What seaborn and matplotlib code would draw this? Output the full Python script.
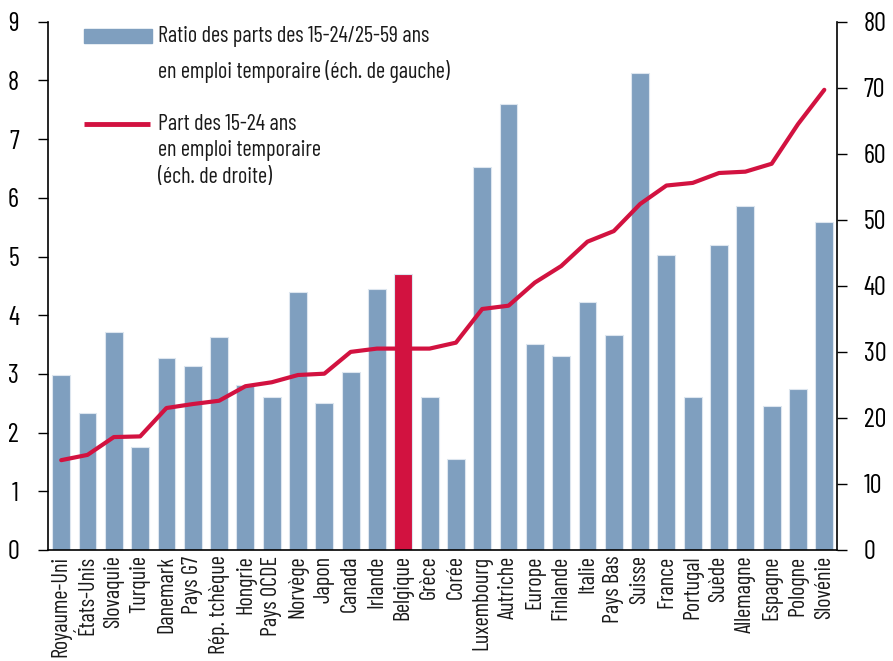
import numpy as np
import pandas as pd
import matplotlib
matplotlib.use("Agg")
import matplotlib.pyplot as plt
import seaborn as sns

# ------------------------
# Data
# ------------------------
pays = ["Royaume-Uni", "États-Unis", "Slovaquie", "Turquie", "Danemark", "Pays G7",
        "Rép. tchèque", "Hongrie", "Pays OCDE", "Norvège", "Japon", "Canada", "Irlande",
        "Belgique", "Grèce", "Corée", "Luxembourg", "Autriche", "Europe", "Finlande",
        "Italie", "Pays Bas", "Suisse", "France", "Portugal", "Suède", "Allemagne",
        "Espagne", "Pologne", "Slovénie"]

ratio = [2.98, 2.33, 3.71, 1.75, 3.27, 3.13, 3.63, 2.81, 2.61, 4.40, 2.51, 3.03, 4.45,
         4.70, 2.61, 1.55, 6.52, 7.60, 3.51, 3.30, 4.22, 3.66, 8.13, 5.03, 2.61, 5.20,
         5.86, 2.45, 2.74, 5.59]

part_15_24 = [13.6, 14.4, 17.1, 17.2, 21.5, 22.1, 22.6, 24.8, 25.4, 26.5, 26.7, 30.0, 30.5,
              30.5, 30.5, 31.4, 36.5, 37.0, 40.5, 43.0, 46.7, 48.3, 52.4, 55.2, 55.6, 57.1,
              57.3, 58.5, 64.5, 69.7]

highlight = "Belgique"

left_ticks = list(range(0, 10))
right_ticks = list(range(0, 90, 10))

legend_bar = "Ratio des parts des 15-24/25-59 ans\nen emploi temporaire (éch. de gauche)"
legend_line = "Part des 15-24 ans\nen emploi temporaire\n(éch. de droite)"

# ------------------------
# Style
# ------------------------
BLUE = "#7f9fbf"
RED = "#d21240"

sns.set_style("white")
plt.rcParams["font.family"] = ["Barlow Condensed", "Roboto Condensed", "Archivo Narrow",
                               "Open Sans Condensed", "DejaVu Sans"]
plt.rcParams["text.color"] = "#1a1a1a"
plt.rcParams["xtick.color"] = "#1a1a1a"
plt.rcParams["ytick.color"] = "black"

df = pd.DataFrame({"pays": pays, "ratio": ratio, "part": part_15_24})
df["x"] = np.arange(len(df))
palette = {p: (RED if p == highlight else BLUE) for p in pays}

fig = plt.figure(figsize=(8.93, 6.61), dpi=100)
ax = fig.add_axes([0.0538, 0.168, 0.884, 0.799])

sns.barplot(data=df, x="pays", y="ratio", hue="pays", palette=palette, legend=False,
            width=0.68, saturation=1, edgecolor="#dde6ef", linewidth=0.8, ax=ax)
ax.set_xlim(-0.5, len(pays) - 0.5)
ax.set_ylim(0, 9)
ax.set_yticks(left_ticks)
ax.set_xlabel("")
ax.set_ylabel("")
ax.tick_params(axis="y", direction="out", length=7, width=1, labelsize=19, pad=14)
ax.tick_params(axis="x", length=0, labelsize=16, pad=4)
plt.setp(ax.get_xticklabels(), rotation=90)

ax2 = ax.twinx()
sns.lineplot(data=df, x="x", y="part", color=RED, linewidth=3, ax=ax2)
ax2.set_ylim(0, 80)
ax2.set_yticks(right_ticks)
ax2.set_xlim(-0.5, len(pays) - 0.5)
ax2.set_ylabel("")
ax2.tick_params(axis="y", direction="out", length=7, width=1, labelsize=19, pad=12)

for a in (ax, ax2):
    a.spines["top"].set_visible(False)
    for s in ("left", "right", "bottom"):
        a.spines[s].set_color("black")
        a.spines[s].set_linewidth(1.2)
ax.spines["right"].set_visible(False)
ax2.spines["left"].set_visible(False)
ax2.spines["bottom"].set_visible(False)

# Legend drawn by hand, like the original
ax.add_patch(plt.Rectangle((0.0456, 0.960), 0.086, 0.027, transform=ax.transAxes,
                           color=BLUE, clip_on=False))
ax.text(0.139, 0.992, legend_bar, transform=ax.transAxes, fontsize=16, va="top",
        linespacing=1.72)
ax.plot([0.0456, 0.129], [0.807, 0.807], transform=ax.transAxes, color=RED, linewidth=3.5,
        solid_capstyle="butt")
ax.text(0.139, 0.826, legend_line, transform=ax.transAxes, fontsize=16, va="top",
        linespacing=1.35)

fig.savefig("out.png", dpi=100)
